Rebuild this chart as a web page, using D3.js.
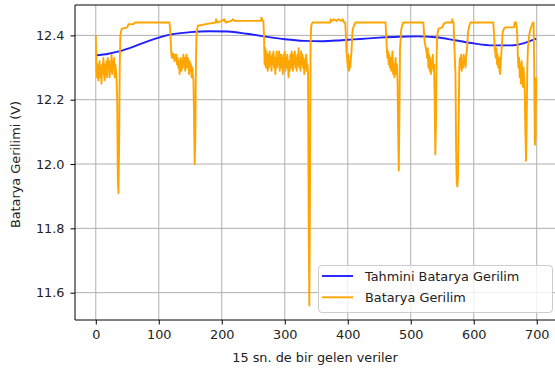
<!DOCTYPE html>
<html>
<head>
<meta charset="utf-8">
<script src="https://cdn.jsdelivr.net/npm/d3@7"></script>
<style>
  body { margin: 0; background: #fff; }
  text { font-family: "DejaVu Sans", sans-serif; }
</style>
</head>
<body>
<svg id="canvas" width="555" height="371"></svg>
<script>
// tick labels
let xTicks = [0, 100, 200, 300, 400, 500, 600, 700]
let yTicks = [11.6, 11.8, 12.0, 12.2, 12.4]

// tahmini (predicted) voltage, read at a few points along the smooth curve
let tahminiX = [0, 20, 40, 60, 80, 100, 120, 150, 180, 210, 240, 270, 300, 330, 360, 390, 420, 450, 480, 510, 540, 570, 600, 630, 660, 680, 699]
let tahminiY = [12.338, 12.343, 12.352, 12.365, 12.38, 12.393, 12.403, 12.41, 12.413, 12.412, 12.405, 12.396, 12.388, 12.383, 12.382, 12.385, 12.389, 12.393, 12.396, 12.397, 12.394, 12.385, 12.375, 12.369, 12.369, 12.376, 12.39]

// measured voltage, [index, volts]
let gerilim = [
  [0,12.40],[1,12.30],[2,12.27],[3,12.31],[4,12.26],[5,12.29],[6,12.32],[7,12.27],[8,12.30],[9,12.25],
  [10,12.31],[11,12.28],[12,12.33],[13,12.29],[14,12.26],[15,12.31],[16,12.28],[17,12.32],[18,12.27],[19,12.33],
  [20,12.30],[21,12.32],[22,12.27],[23,12.31],[24,12.29],[25,12.34],[26,12.28],[27,12.32],[28,12.30],[29,12.33],
  [30,12.27],[31,12.31],[32,12.29],[33,12.26],[34,12.20],[35,11.95],[36,11.91],[37,12.05],[38,12.30],[39,12.40],
  [41,12.42],[50,12.425],[52,12.435],[60,12.435],[62,12.44],[117,12.44],[118,12.42],[119,12.38],
  [120,12.34],[121,12.33],[122,12.345],[123,12.33],[124,12.34],[125,12.32],[126,12.34],[127,12.33],[128,12.34],[129,12.31],
  [130,12.33],[131,12.30],[132,12.32],[133,12.28],[134,12.31],[135,12.33],[136,12.29],[137,12.32],[138,12.30],[139,12.34],
  [140,12.31],[141,12.33],[142,12.29],[143,12.32],[144,12.34],[145,12.30],[146,12.33],[147,12.31],[148,12.28],[149,12.32],
  [150,12.29],[151,12.31],[152,12.27],[153,12.30],[154,12.28],[155,12.26],[156,12.15],[157,12.00],[158,12.08],[159,12.32],
  [160,12.41],[162,12.43],[175,12.435],[190,12.44],[191,12.45],[193,12.44],[200,12.445],[204,12.45],[206,12.44],
  [215,12.445],[218,12.45],[220,12.445],[262,12.445],[263,12.455],[265,12.445],[266,12.445],[267,12.40],
  [268,12.31],[269,12.36],[270,12.30],[271,12.35],[272,12.32],[273,12.29],[274,12.34],[275,12.30],[276,12.35],[277,12.31],
  [278,12.33],[279,12.29],[280,12.34],[281,12.31],[282,12.35],[283,12.30],[284,12.33],[285,12.28],[286,12.32],[287,12.35],
  [288,12.30],[289,12.33],[290,12.31],[291,12.35],[292,12.29],[293,12.32],[294,12.34],[295,12.30],[296,12.33],[297,12.28],
  [298,12.34],[299,12.31],[300,12.35],[301,12.29],[302,12.33],[303,12.30],[304,12.34],[305,12.31],[306,12.27],[307,12.32],
  [308,12.29],[309,12.34],[310,12.30],[311,12.35],[312,12.32],[313,12.29],[314,12.34],[315,12.31],[316,12.35],[317,12.30],
  [318,12.33],[319,12.29],[320,12.34],[321,12.31],[322,12.36],[323,12.30],[324,12.33],[325,12.29],[326,12.35],[327,12.31],
  [328,12.34],[329,12.30],[330,12.33],[331,12.28],[332,12.32],[333,12.30],[334,12.34],[335,12.29],[336,12.31],[337,12.28],
  [338,11.80],[339,11.56],[340,11.90],[341,12.38],[342,12.43],[344,12.44],[372,12.44],[373,12.45],[375,12.445],
  [378,12.45],[382,12.445],[385,12.45],[390,12.445],[392,12.45],[394,12.44],[396,12.44],
  [397,12.40],[398,12.35],[399,12.33],[400,12.30],[401,12.34],[402,12.29],[403,12.32],[404,12.30],[405,12.33],[406,12.35],
  [407,12.40],[408,12.42],[410,12.43],[412,12.44],[460,12.44],[461,12.40],
  [462,12.36],[463,12.33],[464,12.35],[465,12.31],[466,12.34],[467,12.30],[468,12.33],[469,12.29],[470,12.32],[471,12.35],
  [472,12.28],[473,12.31],[474,12.27],[475,12.30],[476,12.33],[477,12.28],[478,12.31],[479,12.26],[480,12.10],[481,11.98],
  [482,12.15],[483,12.36],[485,12.42],[488,12.44],[520,12.44],
  [521,12.41],[522,12.38],[523,12.37],[524,12.36],[525,12.35],[526,12.33],[527,12.36],[528,12.30],[529,12.34],[530,12.29],
  [531,12.33],[532,12.28],[533,12.32],[534,12.30],[535,12.34],[536,12.29],[537,12.31],[538,12.20],[539,12.03],[540,12.12],
  [541,12.33],[542,12.40],[544,12.42],[550,12.425],[552,12.435],[556,12.44],[565,12.44],[566,12.45],[567,12.44],[568,12.44],
  [569,12.38],[570,12.33],[571,12.28],[572,12.05],[573,11.94],[574,11.93],[575,11.96],[576,12.12],[577,12.29],[578,12.33],
  [579,12.30],[580,12.34],[581,12.29],[582,12.32],[583,12.30],[584,12.34],[585,12.31],[586,12.33],[587,12.30],[588,12.34],
  [589,12.35],[590,12.38],[591,12.41],[593,12.43],[595,12.44],[631,12.44],
  [632,12.41],[633,12.37],[634,12.35],[635,12.33],[636,12.36],[637,12.31],[638,12.34],[639,12.30],[640,12.33],[641,12.29],
  [642,12.28],[643,12.32],[644,12.35],[645,12.38],[646,12.41],[648,12.42],[650,12.425],[664,12.425],[665,12.44],[667,12.44],
  [668,12.43],[669,12.40],[670,12.34],[671,12.30],[672,12.33],[673,12.27],[674,12.31],[675,12.25],[676,12.32],[677,12.28],
  [678,12.24],[679,12.30],[680,12.27],[681,12.22],[682,12.10],[683,12.01],[684,12.12],[685,12.30],[686,12.36],[688,12.40],
  [690,12.42],[692,12.43],[694,12.44],[695,12.44],[696,12.30],[697,12.06],[698,12.08],[699,12.27]
]

let seriesNames = ['Tahmini Batarya Gerilim', 'Batarya Gerilim']
let seriesColors = ['#1f1fff', '#ffa500']

let svg = d3.select('#canvas')

let mLeft = 75, mRight = 555, mTop = 5, mBottom = 320

let xScale = d3.scaleLinear().domain([-33, 729]).range([mLeft, mRight])
let yScale = d3.scaleLinear().domain([11.515, 12.4945]).range([mBottom, mTop])

// grid
svg.append('g')
   .selectAll('line')
   .data(xTicks)
   .enter()
   .append('line')
   .attr('x1', d => xScale(d)).attr('x2', d => xScale(d))
   .attr('y1', mTop).attr('y2', mBottom)
   .attr('stroke', '#b0b0b0').attr('stroke-width', 1)

svg.append('g')
   .selectAll('line')
   .data(yTicks)
   .enter()
   .append('line')
   .attr('x1', mLeft).attr('x2', mRight)
   .attr('y1', d => yScale(d)).attr('y2', d => yScale(d))
   .attr('stroke', '#b0b0b0').attr('stroke-width', 1)

svg.append('clipPath').attr('id', 'clip')
   .append('rect')
   .attr('x', mLeft).attr('y', mTop)
   .attr('width', mRight - mLeft).attr('height', mBottom - mTop)

let plot = svg.append('g').attr('clip-path', 'url(#clip)')

let tahminiLine = d3.line()
    .x((d, i) => xScale(tahminiX[i]))
    .y(d => yScale(d))
    .curve(d3.curveMonotoneX)

plot.append('path')
    .attr('d', tahminiLine(tahminiY))
    .attr('fill', 'none')
    .attr('stroke', seriesColors[0])
    .attr('stroke-width', 1.9)

let gerilimLine = d3.line()
    .x(d => xScale(d[0]))
    .y(d => yScale(d[1]))

plot.append('path')
    .attr('d', gerilimLine(gerilim))
    .attr('fill', 'none')
    .attr('stroke', seriesColors[1])
    .attr('stroke-width', 1.9)
    .attr('stroke-linejoin', 'round')

// axes
let xAxis = d3.axisBottom(xScale).tickValues(xTicks).tickSize(4.5).tickPadding(5).tickFormat(d3.format('d'))
let yAxis = d3.axisLeft(yScale).tickValues(yTicks).tickSize(4.5).tickPadding(6).tickFormat(d3.format('.1f'))

let gx = svg.append('g').attr('transform', 'translate(0,' + mBottom + ')').call(xAxis)
let gy = svg.append('g').attr('transform', 'translate(' + mLeft + ',0)').call(yAxis)

;[gx, gy].forEach(g => {
    g.select('.domain').remove()
    g.selectAll('.tick line').attr('stroke', '#000').attr('stroke-width', 1)
    g.selectAll('.tick text')
     .attr('fill', '#222')
     .style('font-family', '"DejaVu Sans", sans-serif')
     .style('font-size', '12.85px')
})

// spines (right one falls outside the picture)
svg.append('path')
   .attr('d', 'M' + mLeft + ',' + mTop + 'H' + (mRight + 2) + 'M' + mLeft + ',' + mTop + 'V' + mBottom + 'H' + (mRight + 2))
   .attr('fill', 'none')
   .attr('stroke', '#000')
   .attr('stroke-width', 1)

// labels
svg.append('text')
   .attr('x', (mLeft + mRight) / 2)
   .attr('y', 362)
   .attr('text-anchor', 'middle')
   .attr('fill', '#222')
   .style('font-size', '12.85px')
   .text('15 sn. de bir gelen veriler')

svg.append('text')
   .attr('transform', 'translate(19.5,' + ((mTop + mBottom) / 2 + 2) + ') rotate(-90)')
   .attr('text-anchor', 'middle')
   .attr('fill', '#222')
   .style('font-size', '12.85px')
   .text('Batarya Gerilimi (V)')

// legend
let legend = svg.append('g')
legend.append('rect')
      .attr('x', 318.5).attr('y', 265.5)
      .attr('width', 234).attr('height', 47)
      .attr('rx', 3.5)
      .attr('fill', 'rgba(255,255,255,0.8)')
      .attr('stroke', '#cccccc')
      .attr('stroke-width', 1)

legend.selectAll('g')
      .data(seriesNames)
      .enter()
      .append('g')
      .each(function (d, i) {
          let y = 276 + i * 21.3
          let g = d3.select(this)
          g.append('line')
           .attr('x1', 322).attr('x2', 353)
           .attr('y1', y).attr('y2', y)
           .attr('stroke', seriesColors[i])
           .attr('stroke-width', 1.9)
          g.append('text')
           .attr('x', 365)
           .attr('y', y + 4.6)
           .attr('fill', '#222')
           .style('font-size', '12.85px')
           .text(d)
      })
</script>
</body>
</html>
